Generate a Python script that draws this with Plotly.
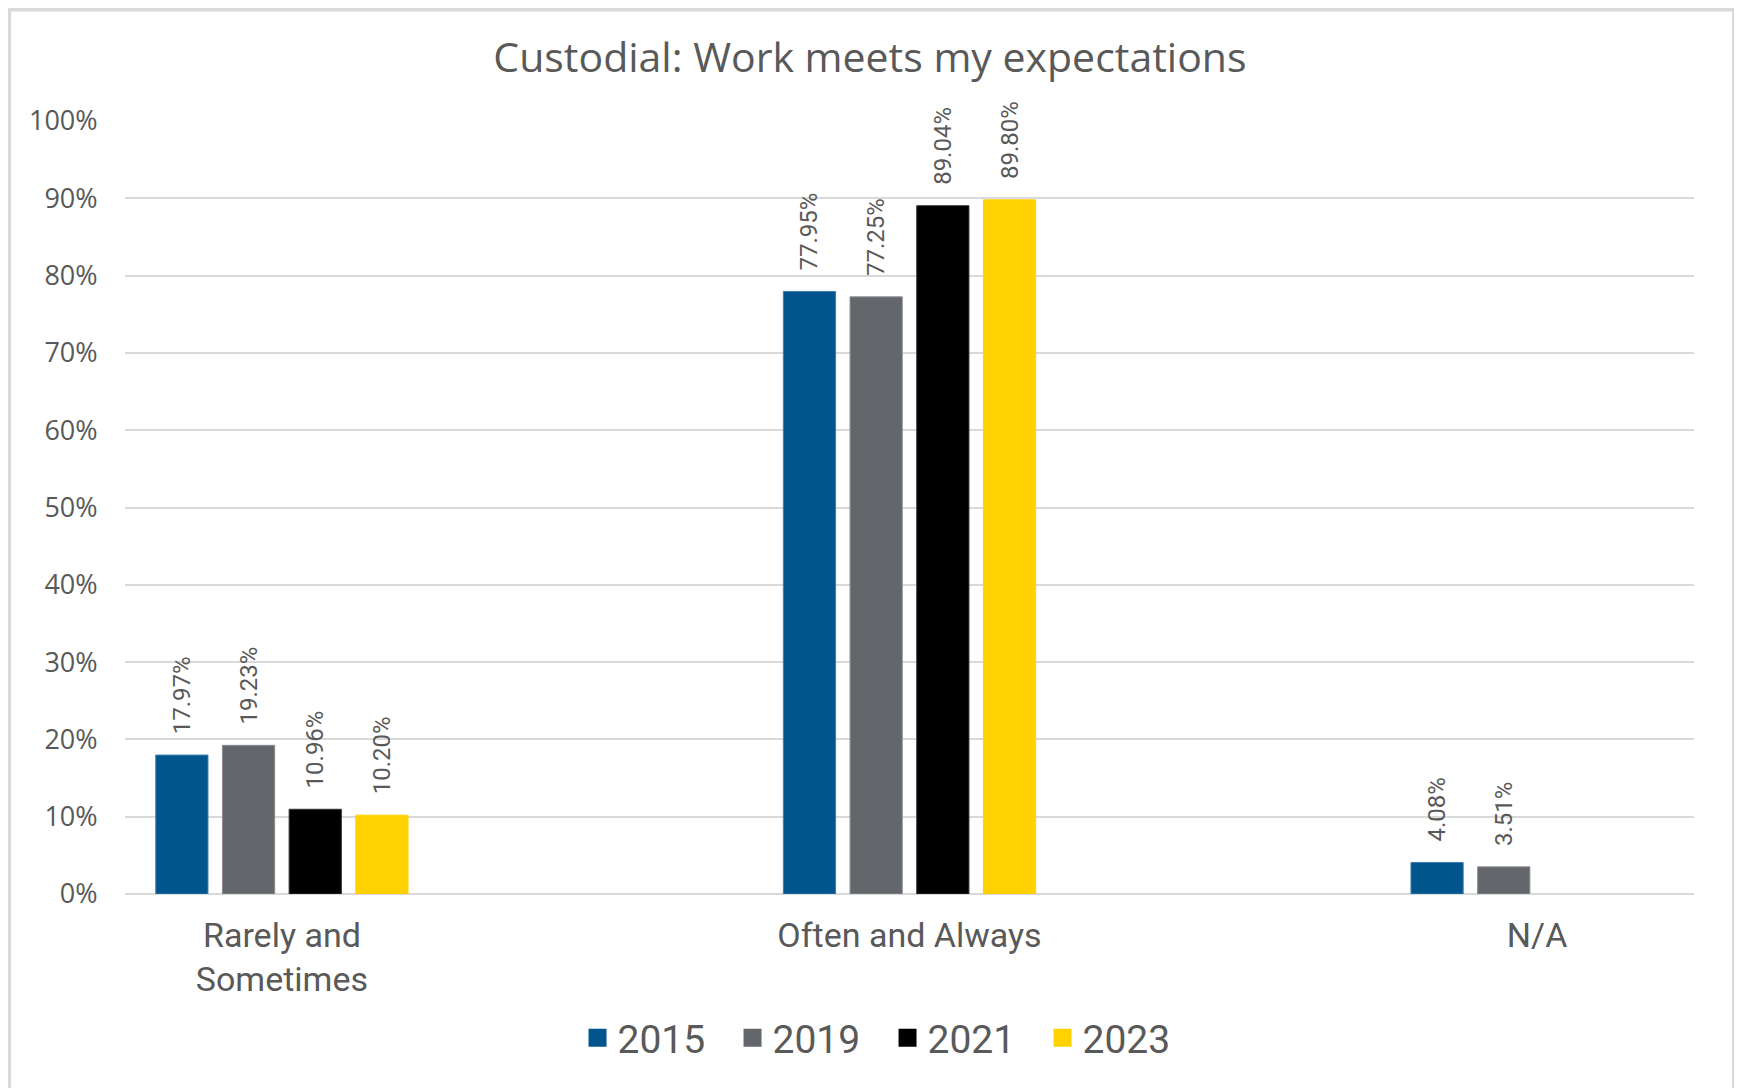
import plotly.graph_objects as go

categories = ["Rarely and<br>Sometimes", "Often and Always", "N/A"]
years = ["2015", "2019", "2021", "2023"]
v2015 = [0.1797, 0.7795, 0.0408]
v2019 = [0.1923, 0.7725, 0.0351]
v2021 = [0.1096, 0.8904, None]
v2023 = [0.1020, 0.8980, None]
series = [v2015, v2019, v2021, v2023]
colors = ["#00558C", "#63666A", "#000000", "#FFD100"]
edge = ["#3A7FB0", "#8A8C90", "#333333", "#FFD100"]

tick_vals = [0, 0.1, 0.2, 0.3, 0.4, 0.5, 0.6, 0.7, 0.8, 0.9, 1.0]
tick_text = ["0%", "10%", "20%", "30%", "40%", "50%", "60%", "70%", "80%", "90%", "100%"]

PAD = "\u00a0\u00a0\u00a0"  # space between bar top and rotated label

fig = go.Figure()
for name, vals, c, e in zip(years, series, colors, edge):
    fig.add_trace(go.Bar(
        name=name, x=categories, y=vals,
        marker=dict(color=c, line=dict(color=e, width=1)),
        text=[None if v is None else f"{PAD}{v*100:.2f}%" for v in vals],
        textposition="outside", textangle=-90, constraintext="none",
        textfont=dict(family="Roboto", size=24, color="#595959"),
        cliponaxis=False, showlegend=False,
    ))

# legend entries (larger square swatches)
for name, c in zip(years, colors):
    fig.add_trace(go.Scatter(
        name=name, x=[None], y=[None], mode="markers",
        marker=dict(symbol="square", size=16, color=c, line=dict(color=c, width=2)),
        showlegend=True,
    ))

fig.update_layout(
    width=1742, height=1088,
    margin=dict(l=117, r=56, t=113, b=202),
    paper_bgcolor="white", plot_bgcolor="white",
    barmode="group", bargap=0.575, bargroupgap=0.217,
    title=dict(text="Custodial: Work meets my expectations",
               font=dict(family="Open Sans", size=41, color="#595959"),
               x=0.4948, xanchor="center", y=1 - 50 / 1088, yanchor="middle"),
    xaxis=dict(range=[-0.25, 2.25], showgrid=False, showline=False,
               tickfont=dict(family="Roboto", size=34, color="#595959"),
               ticks="outside", ticklen=11, tickcolor="rgba(0,0,0,0)"),
    yaxis=dict(range=[0, 1], tickvals=tick_vals, ticktext=tick_text,
               showgrid=True, gridcolor="#D9D9D9", gridwidth=1.5,
               zeroline=True, zerolinecolor="#D9D9D9", zerolinewidth=1.5,
               tickfont=dict(family="Open Sans", size=27, color="#595959"),
               ticks="outside", ticklen=21, tickcolor="rgba(0,0,0,0)"),
    legend=dict(orientation="h", x=0.486, xanchor="center", y=-0.186, yanchor="middle",
                font=dict(family="Roboto", size=39, color="#595959"),
                itemwidth=30, entrywidth=110, traceorder="normal"),
    showlegend=True,
)

# light gray frame around the chart (left, top, right)
fig.add_shape(type="path", xref="paper", yref="paper",
              path="M -0.0739,-0.4 L -0.0739,1.1442 L 1.0255,1.1442 L 1.0255,-0.4",
              line=dict(color="#D9D9D9", width=4))

fig.write_html("out.html")
